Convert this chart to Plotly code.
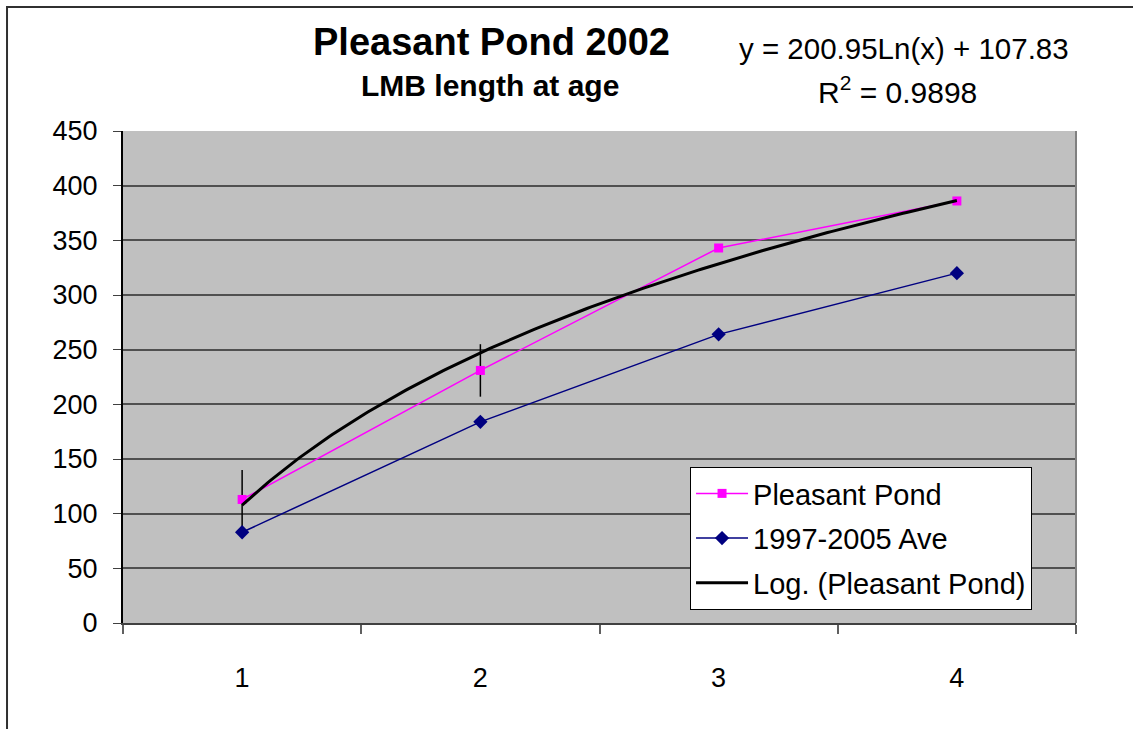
import numpy as np
import plotly.graph_objects as go

# Data: mean length (mm) of largemouth bass at age
ages = [1, 2, 3, 4]
pleasant_pond = [113, 231, 343, 386]
pleasant_err = [27, 24, 0, 0]
ave_1997_2005 = [83, 184, 264, 320]
age_labels = ["1", "2", "3", "4"]

# Logarithmic trend line y = a*ln(x) + b
fit_a, fit_b = 200.95, 107.83
r_squared = 0.9898
trend_x = np.linspace(1, 4, 200)
trend_y = fit_a * np.log(trend_x) + fit_b

FONT = "Liberation Sans, Arial, sans-serif"

fig = go.Figure()

fig.add_trace(go.Scatter(
    x=ages, y=pleasant_pond, name="Pleasant Pond", mode="lines+markers",
    line=dict(color="#FF00FF", width=1.5),
    marker=dict(symbol="square", size=9, color="#FF00FF"),
    error_y=dict(type="data", array=pleasant_err, visible=True,
                 color="black", thickness=1.5, width=0),
    legendgroup="a",
))
fig.add_trace(go.Scatter(
    x=ages, y=ave_1997_2005, name="1997-2005 Ave", mode="lines+markers",
    line=dict(color="#000080", width=1.5),
    marker=dict(symbol="diamond", size=11, color="#000080"),
    legendgroup="b",
))
fig.add_trace(go.Scatter(
    x=trend_x, y=trend_y, name="Log. (Pleasant Pond)", mode="lines",
    line=dict(color="black", width=3),
    legendgroup="c",
))

fig.update_layout(
    width=1133, height=729,
    margin=dict(l=123, r=57, t=131, b=106),
    paper_bgcolor="white",
    plot_bgcolor="#C0C0C0",
    font=dict(family=FONT, size=27, color="black"),
    showlegend=True,
    legend=dict(
        x=0.595, y=0.317, xanchor="left", yanchor="top",
        bgcolor="white", bordercolor="black", borderwidth=1,
        font=dict(family=FONT, size=29, color="black"),
        tracegroupgap=4, traceorder="grouped", itemwidth=52,
    ),
    xaxis=dict(
        range=[0.5, 4.5], tickmode="array", tickvals=ages, ticktext=age_labels,
        ticks="", showgrid=False, zeroline=False,
        showline=True, linecolor="#404040", linewidth=2,
        ticklabelstandoff=30,
        minor=dict(ticks="outside", tick0=0.5, dtick=1, ticklen=9,
                   tickcolor="#606060", tickwidth=2, showgrid=False),
    ),
    yaxis=dict(
        range=[0, 450], dtick=50, ticks="outside", ticklen=8,
        tickcolor="#404040", tickwidth=1,
        showgrid=True, gridcolor="#505050", gridwidth=1.5,
        zeroline=False, showline=True, linecolor="black", linewidth=2,
        ticklabelstandoff=10,
    ),
)

# Right edge of the plot-area frame and the outer chart frame
fig.add_shape(type="line", xref="x domain", yref="y domain",
              x0=1, x1=1, y0=0, y1=1, layer="above",
              line=dict(color="#808080", width=2))
fig.add_shape(type="rect", xref="paper", yref="paper",
              x0=-0.1217, x1=1.2, y0=-0.4, y1=1.252, layer="above",
              line=dict(color="#303030", width=2))

# Titles and trend-line equation
fig.add_annotation(xref="paper", yref="paper", x=(491 - 123) / 953, y=(623 - 42) / 492,
                   text="<b>Pleasant Pond 2002</b>", showarrow=False,
                   font=dict(family=FONT, size=38), xanchor="center", yanchor="middle")
fig.add_annotation(xref="paper", yref="paper", x=(490 - 123) / 953, y=(623 - 85) / 492,
                   text="<b>LMB length at age</b>", showarrow=False,
                   font=dict(family=FONT, size=30), xanchor="center", yanchor="middle")
fig.add_annotation(xref="paper", yref="paper", x=(904 - 123) / 953, y=(623 - 48) / 492,
                   text=f"y = {fit_a:.2f}Ln(x) + {fit_b:.2f}", showarrow=False,
                   font=dict(family=FONT, size=29.5), xanchor="center", yanchor="middle")
fig.add_annotation(xref="paper", yref="paper", x=(897 - 123) / 953, y=(623 - 90) / 492,
                   text=f"R<sup>2</sup> = {r_squared:.4f}", showarrow=False,
                   font=dict(family=FONT, size=30), xanchor="center", yanchor="middle")

fig.write_html("out.html")
